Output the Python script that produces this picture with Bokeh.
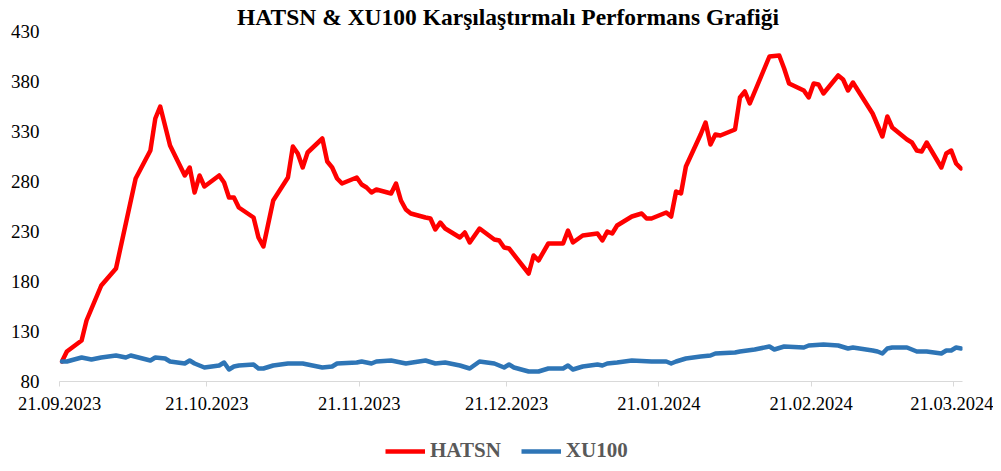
import pandas as pd
from bokeh.plotting import figure
from bokeh.layouts import column
from bokeh.models import (Range1d, FixedTicker, DatetimeTickFormatter, Legend, LegendItem)
from bokeh.embed import file_html
from bokeh.resources import INLINE

# ---------------- data ----------------
hatsn_dates = [
    "2023-09-21", "2023-09-22", "2023-09-25", "2023-09-26", "2023-09-29", "2023-10-02",
    "2023-10-06", "2023-10-09", "2023-10-10", "2023-10-11", "2023-10-13", "2023-10-16",
    "2023-10-17", "2023-10-18", "2023-10-19", "2023-10-20", "2023-10-23", "2023-10-24",
    "2023-10-25", "2023-10-26", "2023-10-27", "2023-10-30", "2023-10-31", "2023-11-01",
    "2023-11-03", "2023-11-06", "2023-11-07", "2023-11-08", "2023-11-09", "2023-11-10",
    "2023-11-13", "2023-11-14", "2023-11-15", "2023-11-16", "2023-11-17", "2023-11-20",
    "2023-11-21", "2023-11-22", "2023-11-23", "2023-11-24", "2023-11-27", "2023-11-28",
    "2023-11-29", "2023-11-30", "2023-12-01", "2023-12-04", "2023-12-05", "2023-12-06",
    "2023-12-07", "2023-12-08", "2023-12-11", "2023-12-12", "2023-12-13", "2023-12-15",
    "2023-12-18", "2023-12-19", "2023-12-20", "2023-12-21", "2023-12-25", "2023-12-26",
    "2023-12-27", "2023-12-29", "2024-01-01", "2024-01-02", "2024-01-03", "2024-01-05",
    "2024-01-08", "2024-01-09", "2024-01-10", "2024-01-11", "2024-01-12", "2024-01-15",
    "2024-01-17", "2024-01-18", "2024-01-19", "2024-01-22", "2024-01-23", "2024-01-24",
    "2024-01-25", "2024-01-26", "2024-01-29", "2024-01-30", "2024-01-31", "2024-02-01",
    "2024-02-02", "2024-02-05", "2024-02-06", "2024-02-07", "2024-02-08", "2024-02-12",
    "2024-02-14", "2024-02-15", "2024-02-16", "2024-02-19", "2024-02-20", "2024-02-21",
    "2024-02-22", "2024-02-23", "2024-02-26", "2024-02-27", "2024-02-28", "2024-02-29",
    "2024-03-04", "2024-03-06", "2024-03-07", "2024-03-08", "2024-03-11", "2024-03-12",
    "2024-03-13", "2024-03-14", "2024-03-15", "2024-03-18", "2024-03-19", "2024-03-20",
    "2024-03-21", "2024-03-22",
]
hatsn_values = [
    100, 110, 121, 141, 176, 193,
    283, 311, 343, 355, 316, 286,
    294, 269, 286, 275, 286, 279,
    264, 264, 254, 244, 224, 215,
    261, 284, 315, 308, 294, 309,
    323, 300, 294, 283, 278, 284,
    277, 274, 269, 272, 268, 278,
    261, 252, 248, 244, 243, 232,
    239, 233, 224, 229, 219, 233,
    222, 221, 214, 213, 188, 206,
    201, 218, 218, 231, 219, 226,
    228, 221, 230, 228, 236, 245,
    248, 243, 243, 249, 245, 270,
    268, 295, 327, 339, 317, 327,
    326, 332, 364, 370, 358, 405,
    406, 393, 378, 371, 364, 378,
    377, 368, 386, 382, 371, 379,
    348, 325, 345, 334, 322, 319,
    311, 310, 319, 294, 308, 311,
    298, 293,
]

xu100_dates = [
    "2023-09-21", "2023-09-22", "2023-09-25", "2023-09-27", "2023-09-29", "2023-10-02",
    "2023-10-04", "2023-10-05", "2023-10-09", "2023-10-10", "2023-10-12", "2023-10-13",
    "2023-10-16", "2023-10-17", "2023-10-18", "2023-10-20", "2023-10-23", "2023-10-24",
    "2023-10-25", "2023-10-26", "2023-10-27", "2023-10-30", "2023-10-31", "2023-11-01",
    "2023-11-03", "2023-11-06", "2023-11-09", "2023-11-13", "2023-11-15", "2023-11-16",
    "2023-11-20", "2023-11-21", "2023-11-23", "2023-11-24", "2023-11-27", "2023-11-30",
    "2023-12-04", "2023-12-06", "2023-12-08", "2023-12-11", "2023-12-13", "2023-12-15",
    "2023-12-18", "2023-12-20", "2023-12-21", "2023-12-22", "2023-12-25", "2023-12-27",
    "2023-12-29", "2024-01-01", "2024-01-02", "2024-01-03", "2024-01-05", "2024-01-08",
    "2024-01-09", "2024-01-10", "2024-01-12", "2024-01-15", "2024-01-19", "2024-01-22",
    "2024-01-23", "2024-01-24", "2024-01-26", "2024-01-29", "2024-01-31", "2024-02-01",
    "2024-02-05", "2024-02-06", "2024-02-09", "2024-02-12", "2024-02-13", "2024-02-15",
    "2024-02-19", "2024-02-20", "2024-02-23", "2024-02-26", "2024-02-28", "2024-02-29",
    "2024-03-04", "2024-03-05", "2024-03-06", "2024-03-07", "2024-03-08", "2024-03-11",
    "2024-03-13", "2024-03-15", "2024-03-18", "2024-03-19", "2024-03-20", "2024-03-21",
    "2024-03-22",
]
xu100_values = [
    100, 100, 104, 102, 104, 106,
    104, 106, 101, 104, 103, 100,
    98, 101, 98, 94, 96, 99,
    92, 95, 96, 97, 93, 93,
    96, 98, 98, 94, 95, 98,
    99, 100, 98, 100, 101, 98,
    101, 98, 99, 96, 93, 100,
    98, 94, 97, 94, 90, 90,
    93, 93, 96, 92, 95, 97,
    96, 98, 99, 101, 100, 100,
    98, 100, 103, 105, 106, 108,
    109, 110, 112, 115, 112, 115,
    114, 116, 117, 116, 113, 114,
    111, 110, 108, 113, 114, 114,
    110, 110, 108, 111, 111, 114,
    113,
]

tick_dates = ["2023-09-21", "2023-10-21", "2023-11-21", "2023-12-21",
              "2024-01-21", "2024-02-21", "2024-03-21"]
y_ticks = [80, 130, 180, 230, 280, 330, 380, 430]

title_text = "HATSN  & XU100 Karşılaştırmalı Performans Grafiği"
series_names = ["HATSN", "XU100"]
series_colors = ["#FF0000", "#2E75B6"]

# ---------------- main figure ----------------
half_day = pd.Timedelta(hours=12)   # points sit in the middle of each day slot
hx = pd.to_datetime(hatsn_dates) + half_day
xx = pd.to_datetime(xu100_dates) + half_day

x_start = pd.Timestamp(tick_dates[0])
x_end = x_start + pd.Timedelta(days=183.8)

FONT = "Liberation Serif"
W = 993

p = figure(width=W, height=421, x_axis_type="datetime",
           output_backend="svg", toolbar_location=None,
           x_range=Range1d(x_start, x_end), y_range=Range1d(y_ticks[0], y_ticks[-1]),
           min_border_left=59, min_border_right=31, min_border_top=31,
           min_border_bottom=40)

p.title.text = title_text
p.title.align = "center"
p.title.text_font = FONT
p.title.text_font_size = "23.5px"
p.title.text_font_style = "bold"
p.title.text_color = "#000000"
p.title.standoff = 3

p.outline_line_color = None
p.xgrid.visible = False
p.ygrid.visible = False
p.background_fill_color = "white"
p.border_fill_color = "white"

r1 = p.line(hx, hatsn_values, line_color=series_colors[0], line_width=4.5,
            line_join="round", line_cap="round")
r2 = p.line(xx, xu100_values, line_color=series_colors[1], line_width=4.5,
            line_join="round", line_cap="round")

# x axis
p.xaxis.ticker = FixedTicker(ticks=[pd.Timestamp(d).value // 10**6 for d in tick_dates])
fmt = "%d.%m.%Y"
p.xaxis.formatter = DatetimeTickFormatter(days=fmt, months=fmt, years=fmt, hours=fmt,
                                          minutes=fmt, seconds=fmt, milliseconds=fmt,
                                          minsec=fmt, hourmin=fmt)
p.xaxis.axis_line_color = "#D9D9D9"
p.xaxis.axis_line_width = 1
p.xaxis.major_tick_line_color = "#D9D9D9"
p.xaxis.major_tick_out = 5
p.xaxis.major_tick_in = 0
p.xaxis.minor_tick_line_color = None
p.xaxis.major_label_text_font = FONT
p.xaxis.major_label_text_font_size = "18.5px"
p.xaxis.major_label_text_color = "#000000"
p.xaxis.major_label_standoff = 10

# y axis
p.yaxis.ticker = FixedTicker(ticks=y_ticks)
p.yaxis.axis_line_color = None
p.yaxis.major_tick_line_color = None
p.yaxis.minor_tick_line_color = None
p.yaxis.major_tick_out = 0
p.yaxis.major_tick_in = 0
p.yaxis.major_label_standoff = 20
p.yaxis.major_label_text_font = FONT
p.yaxis.major_label_text_font_size = "19px"
p.yaxis.major_label_text_color = "#000000"

# ---------------- legend strip underneath ----------------
# the same series are drawn here outside the visible range, so only the legend shows
lg = figure(width=W, height=42, output_backend="svg", toolbar_location=None,
            x_axis_location=None, y_axis_location=None,
            x_range=Range1d(0, 1), y_range=Range1d(0, 1), min_border=0)
lg.outline_line_color = None
lg.xgrid.visible = False
lg.ygrid.visible = False
lg.border_fill_color = "white"
k1 = lg.line(hx, hatsn_values, line_color=series_colors[0], line_width=4.5)
k2 = lg.line(xx, xu100_values, line_color=series_colors[1], line_width=4.5)
legend = Legend(items=[LegendItem(label=series_names[0], renderers=[k1]),
                       LegendItem(label=series_names[1], renderers=[k2])],
                orientation="horizontal", location=(326, 0),
                glyph_width=40, glyph_height=20, label_standoff=5, spacing=20,
                padding=0, margin=0, border_line_color=None,
                background_fill_alpha=0,
                label_text_font=FONT, label_text_font_size="21px",
                label_text_font_style="bold", label_text_color="#595959")
lg.add_layout(legend, "center")

layout = column(p, lg, spacing=0)
open("out.html", "w").write(file_html(layout, INLINE))
